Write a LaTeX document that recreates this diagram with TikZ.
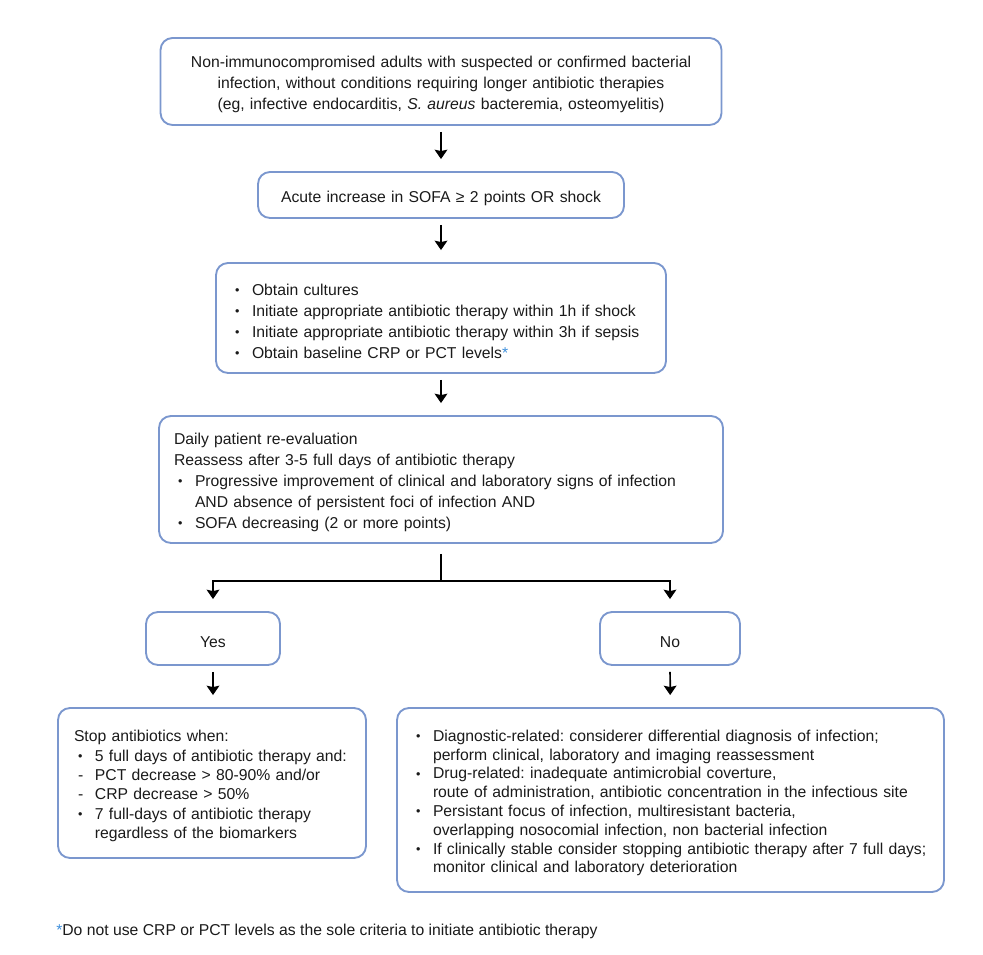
\documentclass[tikz,border=0pt]{standalone}
\usepackage{fontspec}
\setmainfont{Liberation Sans}
\usepackage{tikz}
\usetikzlibrary{arrows.meta,positioning}
\definecolor{frame}{HTML}{7B97CE}
\definecolor{star}{HTML}{3D8EDB}
\definecolor{ink}{HTML}{1A1A1A}
\newcommand{\itm}{\makebox[15.75pt][l]{\hspace{3pt}\raisebox{0.5pt}{\scalebox{0.8}{\textbullet}}}}
\newcommand{\dsh}{\makebox[15.75pt][l]{\hspace{3pt}-}}
\newcommand{\cnt}{\hspace*{15.75pt}}
\newcommand{\bluestar}{{\color{star}*}}
\frenchspacing
\tikzset{
  box/.style={draw=frame, line width=1.4pt, rounded corners=9pt, inner sep=0pt, text=ink,
    execute at begin node={\rule{0pt}{13pt}}, font=\fontsize{11.8}{15.75}\selectfont},
  cbox/.style={box, align=center},
  lbox/.style={box, align=left, inner xsep=11.25pt},
  arr/.style={draw=black, line width=1.3pt, -{Stealth[length=7pt,width=9.5pt,inset=1pt]},
    shorten <=4.5pt, shorten >=9pt},
  link/.style={draw=black, line width=1.3pt},
}
\begin{document}
\begin{tikzpicture}[x=0.75pt,y=-0.75pt]
  \useasboundingbox (0,0) rectangle (983,955);
  \node[cbox, minimum width=420.75pt, minimum height=65.25pt, text width=410pt] (pop) at (441,81.5)
    {Non-immunocompromised adults with suspected or confirmed bacterial\\
     infection, without conditions requiring longer antibiotic therapies\\
     (eg, infective endocarditis, \textit{S. aureus} bacteremia, osteomyelitis)};
  \node[cbox, minimum width=274.5pt, minimum height=34.5pt, text width=260pt] (sofa) at (441,195)
    {Acute increase in SOFA ≥ 2 points OR shock};
  \node[lbox, minimum width=337.5pt, minimum height=82.5pt, text width=315pt] (start) at (441,318)
    {\itm Obtain cultures\\
     \itm Initiate appropriate antibiotic therapy within 1h if shock\\
     \itm Initiate appropriate antibiotic therapy within 3h if sepsis\\
     \itm Obtain baseline CRP or PCT levels\bluestar};
  \node[lbox, minimum width=423pt, minimum height=95.25pt, text width=400.5pt] (reval) at (441,479.5)
    {Daily patient re-evaluation\\
     Reassess after 3-5 full days of antibiotic therapy\\
     \itm Progressive improvement of clinical and laboratory signs of infection\\
     \cnt AND absence of persistent foci of infection AND\\
     \itm SOFA decreasing (2 or more points)};
  \node[cbox, minimum width=100.5pt, minimum height=39.75pt, text width=90pt] (yes) at (213,638.5) {Yes};
  \node[cbox, minimum width=105pt, minimum height=39.75pt, text width=90pt] (no) at (670,638.5) {No};
  \node[lbox, minimum width=231pt, minimum height=112.5pt, text width=207pt, inner xsep=12pt,
    font=\fontsize{11.8}{14.5}\selectfont] (stop) at (212,783)
    {Stop antibiotics when:\\
     \itm 5 full days of antibiotic therapy and:\\
     \dsh PCT decrease > 80-90\% and/or\\
     \dsh CRP decrease > 50\%\\
     \itm 7 full-days of antibiotic therapy\\
     \cnt regardless of the biomarkers};
  \node[lbox, minimum width=410.25pt, minimum height=138pt, text width=387.75pt,
    font=\fontsize{11.8}{14.1}\selectfont] (fail) at (670.5,800)
    {\itm Diagnostic-related: considerer differential diagnosis of infection;\\
     \cnt perform clinical, laboratory and imaging reassessment\\
     \itm Drug-related: inadequate antimicrobial coverture,\\
     \cnt route of administration, antibiotic concentration in the infectious site\\
     \itm Persistant focus of infection, multiresistant bacteria,\\
     \cnt overlapping nosocomial infection, non bacterial infection\\
     \itm If clinically stable consider stopping antibiotic therapy after 7 full days;\\
     \cnt monitor clinical and laboratory deterioration};
  \node[anchor=west, inner sep=0pt, text=ink, font=\fontsize{11.8}{14}\selectfont] (note) at (56,931)
    {\bluestar Do not use CRP or PCT levels as the sole criteria to initiate antibiotic therapy};
  \coordinate (split) at (441,581);
  \draw[arr] (pop) -- (sofa);
  \draw[arr] (sofa) -- (start);
  \draw[arr] (start) -- (reval);
  \draw[link, shorten <=7.5pt] (reval) -- (split);
  \draw[arr, shorten <=0pt] (split) -| (yes);
  \draw[arr, shorten <=0pt] (split) -| (no);
  \draw[arr] (yes) -- (yes |- stop.north);
  \draw[arr] (no) -- (fail);
\end{tikzpicture}
\end{document}
